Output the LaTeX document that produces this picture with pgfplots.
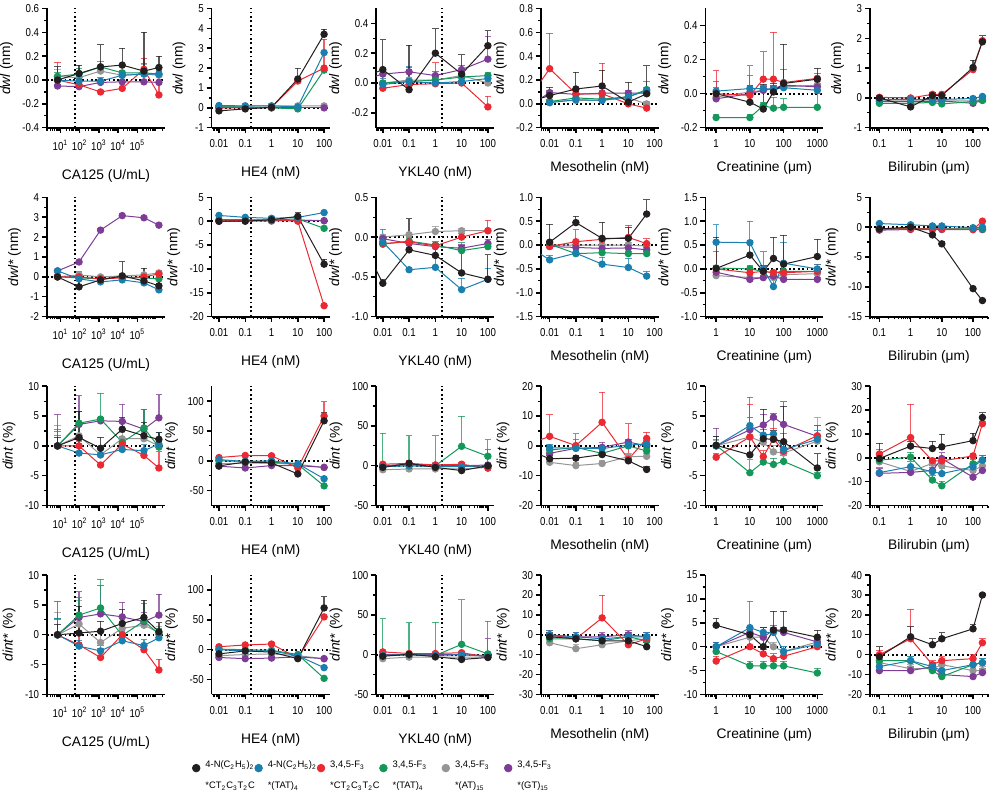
\documentclass[border=0pt]{standalone}
\usepackage{fontspec}
\setmainfont{Liberation Sans}
\usepackage{pgfplots}
\usepackage{pgfplotstable}
\pgfplotsset{compat=1.18}
\usepgfplotslibrary{groupplots}

\definecolor{cblk}{HTML}{231F20}
\definecolor{cblu}{HTML}{1A7FAE}
\definecolor{cred}{HTML}{EC2833}
\definecolor{cgrn}{HTML}{13985A}
\definecolor{cgry}{HTML}{959595}
\definecolor{cpur}{HTML}{7E3C96}

% columns: x, black, blue, red, green, gray, purple (value, upper error)
\pgfplotstableread{
x k ke b be r re g ge a ae p pe
7.08 0 0.11 0 0.02 0 0.15 0.03 0.03 0.03 0.06 -0.05 0.01
93.3 0.055 0.07 -0.01 0.03 -0.04 0.03 0.05 0.05 0.02 0.05 -0.055 0.01
1230 0.11 0.185 -0.01 0.03 -0.10 0.01 0.11 0.05 0.075 0.04 -0.02 0.01
16600 0.125 0.14 0.04 0.02 -0.07 0.01 0.06 0.02 0.04 0.03 -0.015 0.01
224000 0.075 0.325 0.05 0.09 0.09 0.09 0.06 0.02 0.05 0.08 -0.015 0.01
1349000 0.105 0.095 0.05 0.03 -0.125 0.09 0.05 0.02 0.04 0.03 -0.02 0.01
}\tAA
\pgfplotstableread{
x k ke b be r re g ge a ae p pe
0.01 -0.15 0.05 0.12 0.1 0 0.05 0.05 0.05 0.05 0.15 0 0.02
0.1 -0.05 0.05 0.1 0.1 0 0.05 0.05 0.05 0.1 0.15 0 0.02
1 0.03 0.05 0.1 0.1 0.03 0.05 0 0.05 0.1 0.15 0 0.02
10 1.45 0.55 0.05 0.1 1.35 0.1 -0.05 0.05 0.1 0.15 0 0.02
100 3.7 0.25 2.78 0.1 2.0 1.45 1.9 0.05 0.1 0.1 0 0.02
}\tAB
\pgfplotstableread{
x k ke b be r re g ge a ae p pe
0.001 0.02 0 nan nan nan nan nan nan nan nan 0.008 0
0.01 0.09 0.2 -0.01 0.04 -0.035 0.14 0 0.02 0 0.02 0.06 0.03
0.1 -0.045 0.3 0.01 0.1 -0.01 0.02 0.01 0.02 0.02 0.02 0.075 0.03
1 0.2 0.165 0 0.02 -0.005 0.14 0.02 0.02 0.02 0.02 0.05 0.03
10 0.06 0.13 0.01 0.02 0 0.02 0.04 0.02 0.05 0.02 0.09 0.03
100 0.25 0.10 0.03 0.03 -0.16 0.07 0.05 0.02 0 0.02 0.16 0.15
}\tAC
\pgfplotstableread{
x k ke b be r re g ge a ae p pe
0.001 0.004 0 nan nan -0.02 0 nan nan nan nan -0.05 0
0.01 0.07 0.07 0.01 0.02 0.295 0.295 0.02 0.02 0.02 0.02 0.095 0.02
0.1 0.125 0.14 0.035 0.02 0.085 0.02 0.05 0.02 0.03 0.02 0.08 0.02
1 0.15 0.13 0.03 0.02 0.085 0.255 0.04 0.02 0.03 0.02 0.09 0.02
10 0.015 0.165 0.06 0.02 0 0.02 0.06 0.02 0.05 0.02 0.09 0.02
50 0.085 0.235 0.11 0.075 -0.035 0.02 0.12 0.02 0 0.02 0.09 0.02
}\tAD
\pgfplotstableread{
x k ke b be r re g ge a ae p pe
1 0 0.02 0.015 0.02 0 0.135 -0.14 0.02 -0.02 0.02 -0.03 0.1
10 -0.05 0.1 0.03 0.135 -0.01 0.115 -0.14 0.02 0.01 0.02 0 0.02
25 -0.09 0.145 0.03 0.02 0.085 0.16 -0.07 0.02 0.02 0.02 0.02 0.02
50 0.01 0.05 0.025 0.02 0.085 0.275 -0.085 0.065 0.03 0.02 0.03 0.02
100 0.06 0.23 0.035 0.02 0.065 0.08 -0.08 0.05 0.04 0.02 0.05 0.02
1000 0.085 0.065 0.02 0.03 0.09 0.03 -0.08 0.08 0.05 0.02 0.04 0.02
}\tAE
\pgfplotstableread{
x k ke b be r re g ge a ae p pe
0.1 0 0.05 -0.05 0.05 0.02 0.05 -0.18 0.03 -0.1 0.03 -0.12 0.03
1 -0.3 0.05 -0.05 0.05 0 0.05 -0.18 0.03 -0.1 0.03 -0.12 0.03
5 0.08 0.1 -0.05 0.05 0.12 0.05 -0.15 0.03 -0.1 0.03 -0.12 0.03
10 0.08 0.05 -0.05 0.05 0.12 0.05 -0.2 0.03 -0.1 0.03 -0.1 0.03
100 1.02 0.25 -0.02 0.05 0.95 0.05 -0.12 0.03 -0.1 0.03 -0.18 0.03
200 1.88 0.2 0.05 0.05 1.92 0.05 -0.08 0.03 -0.05 0.03 -0.08 0.03
}\tAF
\pgfplotstableread{
x k ke b be r re g ge a ae p pe
7.08 0 0.1 0.3 0.1 0 0.15 0 0.05 0 0.1 0.3 0.1
93.3 -0.5 0.35 -0.1 0.3 0 0.3 -0.05 0.05 0.1 0.1 0.75 0.05
1230 -0.15 0.1 -0.25 0.1 -0.1 0.1 -0.1 0.05 0 0.1 2.35 0.1
16600 0.05 0.72 -0.15 0.1 -0.05 0.1 0 0.05 0.05 0.1 3.08 0.1
224000 -0.2 0.65 -0.3 0.1 0 0.1 -0.05 0.05 0.1 0.1 2.97 0.05
1349000 -0.45 0.8 -0.65 0.1 0.15 0.15 -0.1 0.05 0.2 0.1 2.6 0.1
}\tBA
\pgfplotstableread{
x k ke b be r re g ge a ae p pe
0.01 0 0.3 1.2 0.3 0 0.3 0.3 0.3 0 0.3 0 0.2
0.1 0 0.3 0.8 0.3 0.2 0.3 0.3 0.3 0 0.3 0.1 0.2
1 0.3 0.3 0.6 0.3 0.3 0.3 0.2 0.3 0 0.3 0.1 0.2
10 1 0.8 0.8 0.3 0 0.3 0.5 0.3 0.3 0.3 0.1 0.2
100 -9 1 1.8 0.3 -17.7 0.3 -1.5 0.3 0.1 0.3 0.1 0.2
}\tBB
\pgfplotstableread{
x k ke b be r re g ge a ae p pe
0.001 0.07 0 nan nan nan nan nan nan nan nan nan nan
0.01 -0.58 0.05 -0.06 0.16 -0.08 0.02 -0.09 0.02 0 0.03 -0.02 0.02
0.1 -0.16 0.39 -0.41 0.02 -0.06 0.05 -0.05 0.02 0.03 0.03 -0.08 0.02
1 -0.23 0.1 -0.38 0.13 -0.11 0.05 -0.1 0.02 0.07 0.07 -0.12 0.02
10 -0.45 0.34 -0.66 0.14 0 0.05 -0.17 0.1 0.08 0.03 -0.14 0.05
100 -0.53 0.31 -0.53 0.14 0.08 0.13 -0.12 0.02 0.08 0.03 -0.08 0.05
}\tBC
\pgfplotstableread{
x k ke b be r re g ge a ae p pe
0.001 nan nan 0.04 0 nan nan nan nan nan nan nan nan
0.01 0.06 0.38 -0.31 0.1 -0.03 0.05 0.02 0.05 0 0.1 -0.03 0.05
0.1 0.47 0.14 -0.17 0.05 0.07 0.25 -0.18 0.05 0 0.05 -0.05 0.05
1 0.14 0.34 -0.4 0.15 0.12 0.05 -0.16 0.05 0 0.05 -0.07 0.05
10 0.14 0.22 -0.47 0.2 0.16 0.25 -0.18 0.05 0 0.05 -0.06 0.05
50 0.65 0.3 -0.65 0.1 0.03 0.1 -0.18 0.05 -0.02 0.05 -0.1 0.05
}\tBD
\pgfplotstableread{
x k ke b be r re g ge a ae p pe
1 0.01 0.65 0.56 0.37 0 0.37 0.02 0.05 -0.14 0.05 -0.07 0.05
10 0.29 0.3 0.55 0.45 -0.08 0.16 0 0.05 -0.18 0.05 -0.22 0.05
25 -0.05 0.12 0 0.36 -0.05 0.05 -0.05 0.05 -0.18 0.05 -0.18 0.05
50 0.22 0.45 -0.37 0.3 -0.08 0.05 -0.08 0.05 -0.18 0.05 -0.15 0.05
100 0.1 0.6 0.12 0.43 -0.08 0.05 -0.05 0.05 -0.12 0.05 -0.22 0.05
1000 0.26 0.36 0 0.1 -0.05 0.15 -0.05 0.05 -0.1 0.05 -0.22 0.05
}\tBE
\pgfplotstableread{
x k ke b be r re g ge a ae p pe
0.1 -0.3 0.1 0.6 0.2 -0.3 0.1 -0.3 0.1 -0.4 0.1 -0.5 0.1
1 0 0.1 0.4 0.2 -0.3 0.1 -0.2 0.1 -0.3 0.1 -0.4 0.1
5 -1.3 0.2 0.2 0.2 -0.3 0.1 -0.3 0.1 -0.3 0.1 -0.4 0.1
10 -2.8 0.4 0.2 0.2 -0.3 0.1 -0.3 0.1 -0.3 0.1 -0.4 0.1
100 -10.3 0.2 -0.1 0.2 -0.4 0.1 -0.3 0.1 -0.3 0.1 -0.4 0.1
200 -12.3 0.2 0 0.2 1.0 0.1 -0.3 0.1 -0.4 0.1 -0.4 0.1
}\tBF
\pgfplotstableread{
x k ke b be r re g ge a ae p pe
7.08 0 1.5 0 2.8 0 2.5 0 1.7 0 3.5 0 5.3
93.3 1.4 4.4 -1.2 2 0 1 3.8 2 1.7 2 3.6 4.8
1230 -0.4 1.9 -1.5 1 -3.2 0.5 4.5 4.3 -1.5 1 4.2 0.5
16600 2.8 2 -0.6 1 0.3 0.5 0.6 1 1.2 1 4.1 2.9
224000 1.7 2.2 -0.8 1 -1.6 0.5 3.0 3.1 1.2 1 2.8 3.3
1349000 1.1 1.1 0.3 1.9 -3.7 2.7 -0.2 0.5 0 0.5 4.7 3.9
}\tCA
\pgfplotstableread{
x k ke b be r re g ge a ae p pe
0.01 -8.5 2 2 2 5.5 2 0 2 -5 2 -9 2
0.1 -2 2 -1 2 9 2 -1 2 -4 2 -12 2
1 -3.5 2 0 2 8.5 2 -2 2 -4 2 -8 2
10 -22 2 -5 2 -12 2 -6 2 -6 2 -8 2
100 67 14 -30 2 75 24 -42 2 -11 2 -11 2
}\tCB
\pgfplotstableread{
x k ke b be r re g ge a ae p pe
0.01 -2 2 -1 2 2 2 0 41 -5 2 0 2
0.1 3 2 0 2 3 4 0 38 -4 2 2 2
1 -2 2 -1 2 1 2 0 38 -4 2 1 2
10 -6 2 -1 2 2 2 24.5 38 -4 2 0 2
100 0 2 0 2 -3 2 12 21 -2 2 1 20
}\tCC
\pgfplotstableread{
x k ke b be r re g ge a ae p pe
0.001 -0.7 0 nan nan -0.1 0 nan nan nan nan nan nan
0.01 -4.3 1 -0.6 1 3.2 7.3 -1.4 1 -5.5 1 -2.5 1
0.1 -4.1 1 -0.8 1 0.1 2 -0.5 4.6 -6.6 1 -0.8 1
1 -2.9 1 -0.9 1 7.9 10 -2.5 1 -5.9 1 -0.5 1.8
10 -5 1 0.3 1 -4.5 12 0 1 -3.6 1 1.3 1
50 -7.9 1 0.6 1 2.5 2.1 -1.7 1 -3.5 1 0 2
}\tCD
\pgfplotstableread{
x k ke b be r re g ge a ae p pe
1 0.1 1.5 0 1.6 -1.9 0.6 0.1 1 0 1 0 3
10 -1.5 3 3.4 4.8 1.5 5.5 -4.5 2.2 1.5 1 2.7 2
25 1.2 4.9 1.8 1 -1.8 1 -2.7 1 0.6 1 3.5 1.8
50 1.1 1.5 2 2.9 1.2 1.7 -3.1 1 -1 1 4.8 0.7
100 0.7 5.9 -0.6 1 -0.9 3 -2.6 1 -1.2 1 3.6 3.8
1000 -3.7 2.4 1.1 1.5 1.7 1.8 -5 0.5 0.8 4 1.6 1.8
}\tCE
\pgfplotstableread{
x k ke b be r re g ge a ae p pe
0.1 -0.3 6.5 -6.2 2 1.6 2 -1 2 -1.7 2 -6.5 2
1 4.9 2 -3.7 2 8.5 14 0.3 2 -5.7 2 -6.1 2
5 3.9 3 -5.8 2 -1.2 1 -9.3 2 -2.3 2 -5.3 2
10 4.6 5.3 -6.6 2 -1.3 1 -11.7 2 -3.4 2 -0.3 2.5
100 7.2 3 -3.8 2 0.8 1 -2.5 2 -5.3 2 -8.1 2
200 16.9 2 -0.9 2 14.3 1 -1 2 -3.4 2 -5.3 2
}\tCF
\pgfplotstableread{
x k ke b be r re g ge a ae p pe
7.08 0 1.8 0 2.7 0 2.6 0 2.8 0 3.8 0 5.6
93.3 0.3 4.5 -1.9 1 -1.7 3.6 3.3 3 1.8 4 2.9 4.3
1230 0.6 1.7 -2.7 1 -3.8 1.5 4.5 4.8 -1.3 2 3.5 4.8
16600 1.9 2.3 -1 1 0 0.5 -0.1 1 1.1 2 3 2.5
224000 2.9 2.9 -1.8 1 -2.5 0.5 2.3 3 1.6 1 2.2 1.5
1349000 0.5 1.5 -0.5 1 -5.9 1.8 0.1 1 0.4 1 3.3 3.5
}\tDA
\pgfplotstableread{
x k ke b be r re g ge a ae p pe
0.01 -7 2 0 2 5 2 1 2 -10 2 -13 2
0.1 -2 2 -2 2 8 2 0 2 -8 2 -15 2
1 -4 2 -2 2 9.5 2 -1 2 -7 2 -14 2
10 -15 2 -10 2 -14 2 -8 2 -10 2 -12 2
100 70 19 -30 2 55 2 -48 2 -15 2 -15 2
}\tDB
\pgfplotstableread{
x k ke b be r re g ge a ae p pe
0.01 -2 2 -1 2 3.5 2 -1 46 -5 2 0 2
0.1 0.5 2 0 2 1.5 3 0 40 -3 2 0 2
1 -2.5 2 -1 2 1.5 2 -1 42 -3 2 0 2
10 -6 2 0 2 2.5 2 13 56 -3 2 0 2
100 -3.5 2 -2 2 -3 2 1 41 -3 2 -1 22
}\tDC
\pgfplotstableread{
x k ke b be r re g ge a ae p pe
0.01 -1 2 0 2 0 2 -2 2 -4 2 -1 2
0.1 -2 2 -1 2 -2 2 -2 2 -7 2 -1 2
1 -3 2 -2 2 8.5 11.5 -3 2 -5 2 -1 2
10 -3 2 -1 2 -5 2 -1 2 -3 2 0 2
50 -6 2 -1 2 -2 2 -3 2 -2 2 -1 2
}\tDD
\pgfplotstableread{
x k ke b be r re g ge a ae p pe
1 4.5 1.5 0 1 -3 1 -1 1 0 1 0 1
10 2.5 1.5 4 5.5 0 2 -4 1 2 1 3 1
25 0 4 3 1 -1.5 1 -4 1 2 1 2 1
50 3.5 4 3 1 -2.5 1 -4 1 0 1 3.5 1
100 3.5 4 -1 1 -2 1 -4 1 -1 1 3 1
1000 2 1.5 0.5 1 0 1 -5.5 1 1 1 1 1
}\tDE
\pgfplotstableread{
x k ke b be r re g ge a ae p pe
0.1 -1 5 -6 2 0 2 -3 2 -4 2 -8 2
1 9 5 -3 2 8 15 -3 2 -7 2 -8 2
5 5 3 -6 2 -5 2 -8 2 -7 2 -6 2
10 8 3 -8 2 -3 2 -11 2 -5 2 -10 2
100 13 2 -5 2 -2 2 -5 2 -8 2 -11 2
200 30 1 -4 2 6 2 -4 2 -8 2 -9 2
}\tDF

\tikzset{refl/.style={black, line width=0.9pt, dash pattern=on 0.9pt off 1.3pt}}
\pgfplotsset{
  ser/.style={color=#1, mark=*, mark size=1.6pt, line width=0.5pt, forget plot,
    error bars/y dir=plus, error bars/y explicit,
    error bars/error bar style={line width=0.6pt, opacity=0.75}},
  prism/.style={
    scale only axis, width=59pt, height=59.7pt, xmode=log,
    axis x line*=bottom, axis y line*=left,
    axis line style={line width=0.85pt, black},
    tick align=outside, major tick length=2.5pt, minor tick length=1.4pt,
    major tick style={line width=0.7pt, black}, minor tick style={line width=0.6pt, black},
    tick label style={font=\fontsize{5.7}{6.5}\selectfont, xscale=0.85},
    yticklabel style={inner sep=1.5pt},
    label style={font=\fontsize{6.9}{8}\selectfont},
    ylabel style={inner sep=0.8pt},
    /pgf/number format/assume math mode=true,
    minor y tick num=1,
    minor xtick={0.002,0.003,0.004,0.005,0.006,0.007,0.008,0.009,0.02,0.03,0.04,0.05,0.06,0.07,0.08,0.09,0.2,0.3,0.4,0.5,0.6,0.7,0.8,0.9,2,3,4,5,6,7,8,9,20,30,40,50,60,70,80,90,200,300,400,500,600,700,800,900,2000,3000,4000,5000,6000,7000,8000,9000,20000,30000,40000,50000,60000,70000,80000,90000,200000,300000,400000,500000,600000,700000,800000,900000,2000000},
    extra y ticks={0}, extra y tick labels={},
    extra y tick style={grid=major, major grid style={refl}, major tick length=0pt},
  },
  vline/.style={extra x ticks={#1}, extra x tick labels={},
    extra x tick style={grid=major, major grid style={refl}, major tick length=0pt}},
  p1/.style={yticklabel style={/pgf/number format/.cd, fixed, fixed zerofill, precision=1}},
  cA/.style={xmin=2, xmax=2.8e6, vline=60, xtick={10,100,1000,10000,100000},
    xticklabels={10\textsuperscript{1},10\textsuperscript{2},10\textsuperscript{3},10\textsuperscript{4},10\textsuperscript{5}},
    xlabel={CA125 (U/mL)}},
  dec/.style={xtick={0.01,0.1,1,10,100}, xticklabels={0.01,0.1,1,10,100}},
  cB/.style={dec, xmin=0.00525, xmax=162, vline=0.17, xlabel={HE4 (nM)}},
  cC/.style={dec, xmin=0.0056, xmax=174, vline=1.8, xlabel={YKL40 (nM)}},
  cD/.style={dec, xmin=0.0046, xmax=145, xlabel={Mesothelin (nM)}},
  cE/.style={xmin=0.48, xmax=1514, xtick={1,10,100,1000}, xticklabels={1,10,100,1000}, xlabel={Creatinine (μm)}},
  cF/.style={xmin=0.05, xmax=302, xtick={0.1,1,10,100}, xticklabels={0.1,1,10,100}, xlabel={Bilirubin (μm)}},
  rA/.style={ylabel={\textit{dwl} (nm)}},
  rB/.style={ylabel={\textit{dwl*} (nm)}},
  rC/.style={ylabel={\textit{dint} (\%)}},
  rD/.style={ylabel={\textit{dint*} (\%)}},
  lgimg/.style={legend image code/.code={\path (0pt,7.25pt) (0pt,-13.46pt); \fill[#1] (0pt,-3.5pt) circle (1.9pt);}},
}

\newcommand{\allser}[1]{%
  \addplot[ser=cgry] table[x=x,y=a,y error=ae]{#1};
  \addplot[ser=cpur] table[x=x,y=p,y error=pe]{#1};
  \addplot[ser=cgrn] table[x=x,y=g,y error=ge]{#1};
  \addplot[ser=cred] table[x=x,y=r,y error=re]{#1};
  \addplot[ser=cblu] table[x=x,y=b,y error=be]{#1};
  \addplot[ser=cblk] table[x=x,y=k,y error=ke]{#1};
}
\newcommand{\lgd}[2]{\makebox[22pt][l]{\renewcommand{\arraystretch}{1.9}\begin{tabular}[t]{@{}l@{}}#1\\{}#2\end{tabular}}}

\begin{document}
\begin{tikzpicture}
\begin{groupplot}[group style={group size=6 by 4, horizontal sep=23.3pt, vertical sep=34.75pt}, prism]
% row 1: dwl
\nextgroupplot[rA, cA, ymin=-0.4, ymax=0.6, ytick={-0.4,-0.2,0,0.2,0.4,0.6}, p1]
\coordinate (o) at (rel axis cs:0,0);
\allser\tAA
\nextgroupplot[rA, cB, ymin=-1, ymax=5, ytick={-1,0,...,5}]
\allser\tAB
\nextgroupplot[rA, cC, ymin=-0.3, ymax=0.5, ytick={-0.2,0,0.2,0.4}, p1]
\allser\tAC
\nextgroupplot[rA, cD, ymin=-0.2, ymax=0.8, ytick={-0.2,0,0.2,0.4,0.6,0.8}, p1]
\allser\tAD
\nextgroupplot[rA, cE, ymin=-0.2, ymax=0.5, ytick={-0.2,0,0.2,0.4}, p1]
\allser\tAE
\nextgroupplot[rA, cF, ymin=-1, ymax=3, ytick={-1,0,1,2,3}]
\allser\tAF
% row 2: dwl*
\nextgroupplot[rB, cA, ymin=-2, ymax=4, ytick={-2,-1,...,4}]
\allser\tBA
\nextgroupplot[rB, cB, ymin=-20, ymax=5, ytick={-20,-15,...,5}]
\allser\tBB
\nextgroupplot[rB, cC, ymin=-1, ymax=0.5, ytick={-1,-0.5,0,0.5}, p1]
\allser\tBC
\nextgroupplot[rB, cD, ymin=-1.5, ymax=1, ytick={-1.5,-1,-0.5,0,0.5,1}, p1]
\allser\tBD
\nextgroupplot[rB, cE, ymin=-1, ymax=1.5, ytick={-1,-0.5,0,0.5,1,1.5}, p1]
\allser\tBE
\nextgroupplot[rB, cF, ymin=-15, ymax=5, ytick={-15,-10,-5,0,5}]
\allser\tBF
% row 3: dint
\nextgroupplot[rC, cA, ymin=-10, ymax=10, ytick={-10,-5,0,5,10}]
\allser\tCA
\nextgroupplot[rC, cB, ymin=-75, ymax=125, ytick={-50,0,50,100}]
\allser\tCB
\nextgroupplot[rC, cC, ymin=-50, ymax=100, ytick={-50,0,50,100}]
\allser\tCC
\nextgroupplot[rC, cD, ymin=-20, ymax=20, ytick={-20,-10,0,10,20}]
\allser\tCD
\nextgroupplot[rC, cE, ymin=-10, ymax=10, ytick={-10,-5,0,5,10}]
\allser\tCE
\nextgroupplot[rC, cF, ymin=-20, ymax=30, ytick={-20,-10,0,10,20,30}]
\allser\tCF
% row 4: dint*
\nextgroupplot[rD, cA, ymin=-10, ymax=10, ytick={-10,-5,0,5,10},
  legend style={at={(1.229,-0.61)}, anchor=west, draw=none, fill=none, inner sep=0pt, outer sep=0pt,
    legend columns=6, column sep=2pt, nodes={inner sep=0.5pt}, font=\fontsize{4.7}{5.6}\selectfont}]
\addlegendimage{lgimg=cblk}
\addlegendentry{\lgd{4-N(C\textsubscript{2}H\textsubscript{5})\textsubscript{2}}{*CT\textsubscript{2}C\textsubscript{3}T\textsubscript{2}C}}
\addlegendimage{lgimg=cblu}
\addlegendentry{\lgd{4-N(C\textsubscript{2}H\textsubscript{5})\textsubscript{2}}{*(TAT)\textsubscript{4}}}
\addlegendimage{lgimg=cred}
\addlegendentry{\lgd{3,4,5-F\textsubscript{3}}{*CT\textsubscript{2}C\textsubscript{3}T\textsubscript{2}C}}
\addlegendimage{lgimg=cgrn}
\addlegendentry{\lgd{3,4,5-F\textsubscript{3}}{*(TAT)\textsubscript{4}}}
\addlegendimage{lgimg=cgry}
\addlegendentry{\lgd{3,4,5-F\textsubscript{3}}{*(AT)\textsubscript{15}}}
\addlegendimage{lgimg=cpur}
\addlegendentry{\lgd{3,4,5-F\textsubscript{3}}{*(GT)\textsubscript{15}}}
\allser\tDA
\nextgroupplot[rD, cB, ymin=-75, ymax=125, ytick={-50,0,50,100}]
\allser\tDB
\nextgroupplot[rD, cC, ymin=-50, ymax=100, ytick={-50,0,50,100}]
\allser\tDC
\nextgroupplot[rD, cD, ymin=-30, ymax=30, ytick={-30,-20,...,30}]
\allser\tDD
\nextgroupplot[rD, cE, ymin=-10, ymax=15, ytick={-10,-5,...,15}]
\allser\tDE
\nextgroupplot[rD, cF, ymin=-20, ymax=40, ytick={-20,-10,...,40}]
\allser\tDF
\end{groupplot}
\pgfresetboundingbox
\path ([shift={(-23.5pt,-333.6pt)}]o) rectangle ([shift={(477pt,63.9pt)}]o);
\end{tikzpicture}
\end{document}
